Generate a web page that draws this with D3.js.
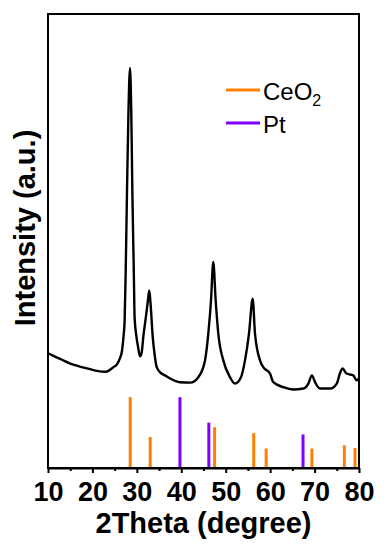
<!DOCTYPE html>
<html>
<head>
<meta charset="utf-8">
<script src="https://cdn.jsdelivr.net/npm/d3@7"></script>
<style>
  html, body { margin: 0; padding: 0; background: #fff; }
  svg { display: block; font-family: "Liberation Sans", Arial, sans-serif; }
</style>
</head>
<body>
<svg id="chart" width="391" height="550"></svg>
<script>
// ---- data ----
const twoTheta = [10.0, 11.0, 13.0, 15.0, 17.0, 19.0, 21.0, 23.0, 24.7, 25.5, 26.2, 26.6, 27.0, 27.25, 27.5, 27.8, 28.1, 28.46, 28.75, 29.0, 29.3, 29.5, 29.9, 30.3, 30.71, 31.1, 31.45, 32.0, 32.5, 32.8, 33.1, 33.57, 34.0, 34.47, 35.3, 36.33, 37.5, 39.7, 42.0, 43.83, 45.34, 46.08, 46.69, 47.2, 47.74, 48.33, 49.46, 50.96, 52.09, 53.44, 54.34, 55.24, 56.07, 56.59, 57.72, 58.46, 59.97, 60.7, 63.0, 65.2, 67.5, 68.6, 69.4, 70.1, 71.2, 73.5, 75.0, 75.7, 76.3, 77.2, 78.7, 79.5, 80.0];
const intensity = [25.3, 24.8, 23.9, 23.0, 22.4, 21.9, 21.4, 21.2, 22.2, 22.8, 24.2, 25.5, 29.0, 32.5, 44.0, 62.0, 78.0, 88.1, 78.0, 60.0, 44.0, 33.0, 29.0, 26.5, 24.6, 25.5, 28.9, 33.0, 37.0, 39.1, 36.0, 28.9, 25.0, 22.2, 21.0, 20.4, 19.7, 18.9, 18.8, 20.0, 23.7, 29.6, 36.9, 45.4, 36.9, 29.6, 23.7, 20.0, 18.6, 20.0, 23.7, 29.6, 37.3, 29.6, 23.7, 22.2, 20.8, 18.9, 17.8, 17.3, 17.5, 18.6, 20.4, 18.9, 17.5, 17.5, 18.6, 20.8, 21.9, 20.8, 20.4, 19.3, 19.8];

const ceo2Pos = [28.5, 33.0, 47.5, 56.3, 59.1, 69.4, 76.7, 79.1];
const ceo2Int = [15.6, 6.8, 9.0, 7.7, 4.3, 4.3, 5.0, 4.4];
const ptPos = [39.7, 46.2, 67.4];
const ptInt = [15.6, 10.0, 7.4];

const xTicks = [10, 20, 30, 40, 50, 60, 70, 80];
const xMinorTicks = [15, 25, 35, 45, 55, 65, 75];
const legendNames = ["CeO", "Pt"];

const orange = "#ff8000";
const purple = "#8000ff";

// ---- layout ----
const svg = d3.select("#chart");
const L = 48, R = 359, T = 14, B = 468;

const x = d3.scaleLinear().domain([10, 80]).range([L, R]);
const y = d3.scaleLinear().domain([0, 100]).range([B, T]);

// reference bars
const ceo2 = ceo2Pos.map((p, i) => ({ p, v: ceo2Int[i] }));
const pt = ptPos.map((p, i) => ({ p, v: ptInt[i] }));

svg.append("g").selectAll("line").data(ceo2).join("line")
  .attr("x1", d => x(d.p)).attr("x2", d => x(d.p))
  .attr("y1", y(0)).attr("y2", d => y(d.v))
  .attr("stroke", orange).attr("stroke-width", 3);

svg.append("g").selectAll("line").data(pt).join("line")
  .attr("x1", d => x(d.p)).attr("x2", d => x(d.p))
  .attr("y1", y(0)).attr("y2", d => y(d.v))
  .attr("stroke", purple).attr("stroke-width", 3);

// XRD pattern
const pts = twoTheta.map((t, i) => [t, intensity[i]]);
const line = d3.line().x(d => x(d[0])).y(d => y(d[1])).curve(d3.curveMonotoneX);
svg.append("path").datum(pts)
  .attr("d", line)
  .attr("fill", "none")
  .attr("stroke", "#000")
  .attr("stroke-width", 2.4)
  .attr("stroke-linejoin", "round");

// frame
svg.append("rect")
  .attr("x", L).attr("y", T).attr("width", R - L).attr("height", B - T)
  .attr("fill", "none").attr("stroke", "#000").attr("stroke-width", 2);

// x axis
const xAxis = d3.axisBottom(x).tickValues(xTicks).tickSize(5).tickSizeOuter(0).tickPadding(9).tickFormat(d3.format("d"));
const gx = svg.append("g").attr("transform", `translate(0,${B})`).call(xAxis);
gx.select(".domain").attr("stroke", "#000").attr("stroke-width", 2);
gx.selectAll(".tick line").attr("stroke", "#000").attr("stroke-width", 2);
gx.selectAll(".tick text").attr("font-size", 27).attr("font-weight", "bold")
  .attr("font-family", "'Liberation Sans', Arial, sans-serif").attr("fill", "#000");

const gxm = svg.append("g").attr("transform", `translate(0,${B})`)
  .call(d3.axisBottom(x).tickValues(xMinorTicks).tickSize(3).tickFormat(""));
gxm.select(".domain").remove();
gxm.selectAll(".tick line").attr("stroke", "#000").attr("stroke-width", 2);

// axis titles
svg.append("text")
  .attr("x", (L + R) / 2).attr("y", 533)
  .attr("text-anchor", "middle").attr("font-size", 29).attr("font-weight", "bold")
  .text("2Theta (degree)");

svg.append("text")
  .attr("transform", "translate(35,228) rotate(-90)")
  .attr("text-anchor", "middle").attr("font-size", 29).attr("font-weight", "bold")
  .text("Intensity (a.u.)");

// legend
const legend = svg.append("g");
const lg = [
  { name: legendNames[0], color: orange, y: 90, sub: "2" },
  { name: legendNames[1], color: purple, y: 123, sub: null }
];
lg.forEach(d => {
  legend.append("line").attr("x1", 226).attr("x2", 260).attr("y1", d.y).attr("y2", d.y)
    .attr("stroke", d.color).attr("stroke-width", 3);
  const t = legend.append("text").attr("x", 263).attr("y", d.y + 10)
    .attr("font-size", 24).attr("fill", "#000").text(d.name);
  if (d.sub) t.append("tspan").attr("font-size", 16).attr("dy", 6).text(d.sub);
});
</script>
</body>
</html>
